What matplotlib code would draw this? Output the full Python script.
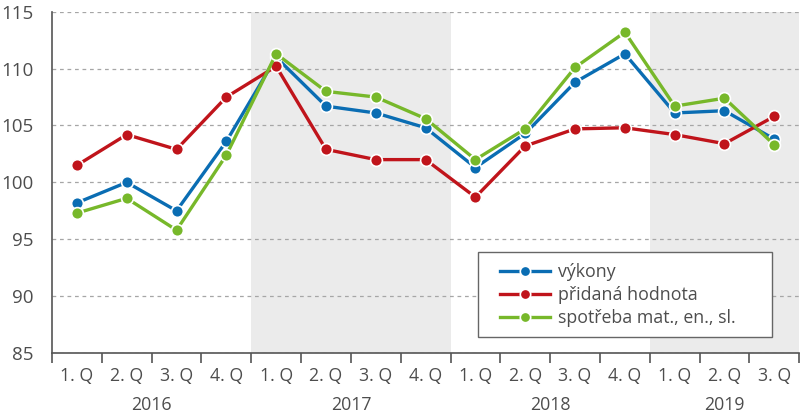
import matplotlib
matplotlib.use("Agg")
import matplotlib.pyplot as plt
from matplotlib.patches import Rectangle
from matplotlib.transforms import blended_transform_factory

plt.rcParams['font.family'] = ['Open Sans', 'DejaVu Sans']

years = ["2016", "2017", "2018", "2019"]
quarters = ["1. Q", "2. Q", "3. Q", "4. Q",
            "1. Q", "2. Q", "3. Q", "4. Q",
            "1. Q", "2. Q", "3. Q", "4. Q",
            "1. Q", "2. Q", "3. Q"]
vykony = [98.2, 100.0, 97.5, 103.6, 111.0, 106.7, 106.1, 104.8,
          101.3, 104.3, 108.8, 111.3, 106.1, 106.3, 103.8]
pridana = [101.5, 104.2, 102.9, 107.5, 110.2, 102.9, 102.0, 102.0,
           98.7, 103.2, 104.7, 104.8, 104.2, 103.4, 105.8]
spotreba = [97.3, 98.6, 95.8, 102.4, 111.3, 108.0, 107.5, 105.6,
            102.0, 104.7, 110.1, 113.2, 106.7, 107.4, 103.3]
series_names = ["výkony", "přidaná hodnota", "spotřeba mat., en., sl."]
colors = ["#0a6db3", "#c0141b", "#77b82a"]

text_col = "#4d4d4d"

fig = plt.figure(figsize=(8, 4.19), dpi=100)
ax = fig.add_axes([0.065, 0.1575, 0.934, 0.8145])

n = len(quarters)
x = list(range(n))

# shaded years (2017, 2019)
for start in (4, 12):
    ax.axvspan(start - 0.5, min(start + 3.5, n - 0.5), color="#ebebeb", zorder=0, lw=0)

for vals, name, c in zip([vykony, pridana, spotreba], series_names, colors):
    ax.plot(x, vals, color=c, lw=2.4, marker="o", markersize=8.5,
            markerfacecolor=c, markeredgecolor="white", markeredgewidth=1.2,
            label=name, zorder=3)

ax.set_xlim(-0.5, n - 0.5)
ax.set_ylim(85, 115)
ax.set_yticks([85, 90, 95, 100, 105, 110, 115])
ax.yaxis.grid(True, linestyle=(0, (3, 3)), color="#a6a6a6", lw=0.9)
ax.set_axisbelow(True)

ax.set_xticks([i - 0.5 for i in range(n + 1)])
ax.set_xticklabels([])
ax.set_xticks(x, minor=True)
ax.set_xticklabels(quarters, minor=True)
ax.tick_params(axis="x", which="major", length=7, width=1.2, color="#555555", direction="out")
ax.tick_params(axis="x", which="minor", length=0, pad=10, labelsize=12.8, labelcolor=text_col)
ax.tick_params(axis="y", length=0, pad=13, labelsize=13.5, labelcolor=text_col)

for s in ("top", "right"):
    ax.spines[s].set_visible(False)
for s in ("left", "bottom"):
    ax.spines[s].set_color("#555555")
    ax.spines[s].set_linewidth(1.2)

trans = blended_transform_factory(ax.transData, ax.transAxes)
for i, y in enumerate(years):
    first = i * 4
    last = min(first + 3, n - 1)
    ax.text((first + last) / 2, -0.152, y, transform=trans, ha="center", va="center",
            fontsize=12.8, color=text_col)

# legend box
ax.add_patch(Rectangle((0.5695, 0.047), 0.394, 0.249, transform=ax.transAxes,
                       facecolor="white", edgecolor="#666666", lw=1.0, zorder=4))
leg = ax.legend(loc="center left", bbox_to_anchor=(0.600, 0.170), frameon=False,
                fontsize=12.8, handlelength=2.8, handletextpad=0.45,
                labelspacing=0.27, borderpad=0, borderaxespad=0)
leg.set_zorder(5)
for t in leg.get_texts():
    t.set_color(text_col)
for h in leg.get_lines():
    h.set_markersize(7.5)

fig.savefig("out.png", dpi=100)
